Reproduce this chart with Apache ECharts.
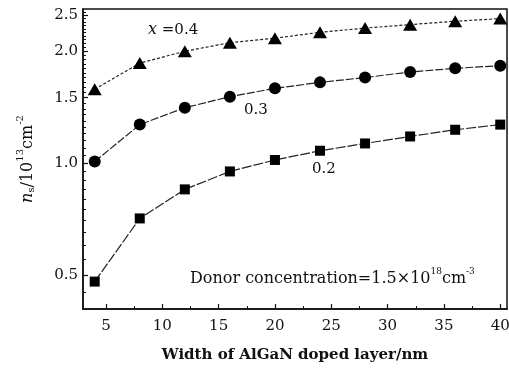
<!DOCTYPE html>
<html><head><meta charset="utf-8">
<script src="https://cdn.jsdelivr.net/npm/echarts@6/dist/echarts.min.js"></script>
<style>html,body{margin:0;padding:0;background:#fff}#c{width:509px;height:371px}</style>
</head><body><div id="c"></div>
<script>
// ---- data ----
const widths = [4, 8, 12, 16, 20, 24, 28, 32, 36, 40];
const ns04 = [1.58, 1.86, 2.00, 2.11, 2.17, 2.25, 2.31, 2.36, 2.41, 2.45];
const ns03 = [1.01, 1.27, 1.41, 1.51, 1.59, 1.65, 1.70, 1.76, 1.80, 1.83];
const ns02 = [0.48, 0.71, 0.85, 0.95, 1.02, 1.08, 1.13, 1.18, 1.23, 1.27];
const xTicks = [5, 10, 15, 20, 25, 30, 35, 40];
const xMinorTicks = [7.5, 12.5, 17.5, 22.5, 27.5, 32.5, 37.5];
const yTicks = [0.5, 1.0, 1.5, 2.0, 2.5];
const yMinorTicks = [0.45, 0.55, 0.6, 0.65, 0.7, 0.75, 0.8, 0.85, 0.9, 0.95,
  1.05, 1.1, 1.15, 1.2, 1.25, 1.3, 1.35, 1.4, 1.45, 1.55, 1.6, 1.65, 1.7, 1.75,
  1.8, 1.85, 1.9, 1.95, 2.05, 2.1, 2.15, 2.2, 2.25, 2.3, 2.35, 2.4, 2.45, 2.55];
const xTitle = 'Width of AlGaN doped layer/nm';
const seriesLabels = ['0.4', '0.3', '0.2'];

const FONT = 'DejaVu Serif';
const INK = '#111';
const XMIN = 2.96, XMAX = 40.6, YMIN = 0.405, YMAX = 2.6;

const pairs = (ys) => widths.map((w, i) => [w, ys[i]]);

const chart = echarts.init(document.getElementById('c'), null, {renderer: 'canvas'});
const baseX = {type: 'value', min: XMIN, max: XMAX, gridIndex: 0, splitLine: {show: false}};
const baseY = {type: 'log', logBase: 10, min: YMIN, max: YMAX, gridIndex: 0, splitLine: {show: false}};

chart.setOption({
  animation: false,
  backgroundColor: '#fff',
  grid: {left: 83, top: 9, right: 2, bottom: 62, containLabel: false, outerBoundsMode: 'none',
    show: true, borderColor: INK, borderWidth: 1.5, backgroundColor: 'transparent'},
  xAxis: [
    Object.assign({}, baseX, {
      position: 'bottom',
      axisLine: {show: true, lineStyle: {color: INK, width: 1.5}},
      axisTick: {show: true, inside: true, length: 5, lineStyle: {color: INK, width: 1.2}, customValues: xTicks},
      axisLabel: {show: true, customValues: xTicks, margin: 10, fontFamily: FONT, fontSize: 15, color: INK},
      name: xTitle, nameLocation: 'middle', nameGap: 39,
      nameTextStyle: {fontFamily: FONT, fontSize: 15, fontWeight: 'bold', color: INK}
    }),
    Object.assign({}, baseX, {
      position: 'bottom',
      axisLine: {show: false},
      axisTick: {show: true, inside: true, length: 3, lineStyle: {color: INK, width: 1}, customValues: xMinorTicks},
      axisLabel: {show: false}
    })
  ],
  yAxis: [
    Object.assign({}, baseY, {
      position: 'left',
      axisLine: {show: true, lineStyle: {color: INK, width: 1.5}},
      axisTick: {show: true, inside: true, length: 5, lineStyle: {color: INK, width: 1.2}, customValues: yTicks},
      axisLabel: {show: true, customValues: yTicks, margin: 5, fontFamily: FONT, fontSize: 15, color: INK,
        formatter: (v) => Number(v).toFixed(1)},
      name: '{i|n}{sub|s}{t|/10}{sup|13}{t|cm}{sup|-2}', nameLocation: 'middle', nameGap: 47, nameRotate: 90,
      nameTextStyle: {fontFamily: FONT, fontSize: 16, color: INK,
        rich: {
          i: {fontFamily: FONT, fontSize: 16, fontStyle: 'italic', color: INK, verticalAlign: 'bottom', lineHeight: 21},
          t: {fontFamily: FONT, fontSize: 16, color: INK, verticalAlign: 'bottom', lineHeight: 21},
          sub: {fontFamily: FONT, fontSize: 10, color: INK, verticalAlign: 'bottom', lineHeight: 21},
          sup: {fontFamily: FONT, fontSize: 10, color: INK, verticalAlign: 'top', lineHeight: 21}
        }}
    }),
    Object.assign({}, baseY, {
      position: 'left',
      axisLine: {show: false},
      axisTick: {show: true, inside: true, length: 3, lineStyle: {color: INK, width: 1}, customValues: yMinorTicks},
      axisLabel: {show: false}
    })
  ],
  series: [
    {name: seriesLabels[0], type: 'line', xAxisIndex: 0, yAxisIndex: 0, data: pairs(ns04),
      symbol: 'triangle', symbolSize: [14, 12], itemStyle: {color: '#000'},
      lineStyle: {color: '#222', width: 1.2, type: [3, 2]}},
    {name: seriesLabels[1], type: 'line', xAxisIndex: 0, yAxisIndex: 0, data: pairs(ns03),
      symbol: 'circle', symbolSize: 12, itemStyle: {color: '#000'},
      lineStyle: {color: '#222', width: 1.2, type: [8, 2]}},
    {name: seriesLabels[2], type: 'line', xAxisIndex: 0, yAxisIndex: 0, data: pairs(ns02),
      symbol: 'rect', symbolSize: 10, itemStyle: {color: '#000'},
      lineStyle: {color: '#222', width: 1.2, type: [10, 2]}}
  ],
  graphic: [
    {type: 'text', left: 148, top: 22, style: {
      text: '{i|x}{t| =' + seriesLabels[0] + '}', fill: INK,
      rich: {i: {fontFamily: FONT, fontStyle: 'italic', fontSize: 16, fill: INK}, t: {fontFamily: FONT, fontSize: 15, fill: INK}}}},
    {type: 'text', left: 244, top: 103, style: {text: seriesLabels[1], fontFamily: FONT, fontSize: 15, fill: INK}},
    {type: 'text', left: 312, top: 162, style: {text: seriesLabels[2], fontFamily: FONT, fontSize: 15, fill: INK}},
    {type: 'text', left: 190, top: 267, style: {
      text: '{t|Donor concentration=1.5×10}{s|18}{t|cm}{s|-3}', fill: INK,
      rich: {t: {fontFamily: FONT, fontSize: 16, fill: INK, verticalAlign: 'bottom', lineHeight: 20},
             s: {fontFamily: FONT, fontSize: 9, fill: INK, verticalAlign: 'top', lineHeight: 20}}}}
  ]
});
</script></body></html>
